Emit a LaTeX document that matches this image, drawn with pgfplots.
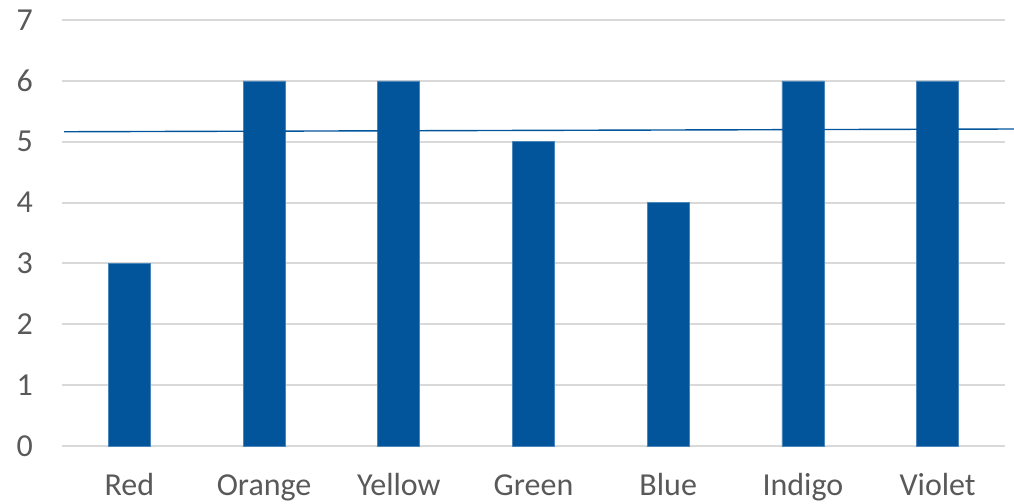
\documentclass[border=0pt]{standalone}
\usepackage{pgfplots}
\pgfplotsset{compat=1.18}
\usepackage{fontspec}
\setmainfont{Carlito}
\definecolor{barblue}{HTML}{02559A}
\definecolor{baredge}{HTML}{4A86BA}
\definecolor{gridgray}{HTML}{D9D9D9}
\definecolor{labelgray}{HTML}{595959}
\begin{document}
\begin{tikzpicture}
\begin{axis}[
  at={(0,0)}, anchor=south west,
  scale only axis,
  width=471.5pt, height=213pt,
  xmin=-0.5, xmax=6.5,
  ymin=0, ymax=7,
  xtick={0,...,6},
  xticklabels={Red,Orange,Yellow,Green,Blue,Indigo,Violet},
  ytick={0,...,7},
  axis line style={draw=none},
  major tick length=0pt,
  ymajorgrids,
  grid style={gridgray, line width=1pt},
  tick label style={font=\fontsize{16}{19}\selectfont, text=labelgray},
  /pgf/number format/assume math mode=true,
  yticklabel style={anchor=east, xshift=-11pt},
  xticklabel style={anchor=base, yshift=-25pt},
  clip=false,
]
\addplot[ybar, bar width=21pt, fill=barblue, draw=baredge, line width=0.3pt]
  coordinates {(0,3) (1,6) (2,6) (3,5) (4,4) (5,6) (6,6)};
\addplot[barblue, line width=0.7pt, no markers]
  coordinates {(-0.485,5.164) (6.567,5.209)};
\end{axis}
\pgfresetboundingbox
\path (-31pt,-29pt) rectangle (476pt,223pt);
\end{tikzpicture}
\end{document}
